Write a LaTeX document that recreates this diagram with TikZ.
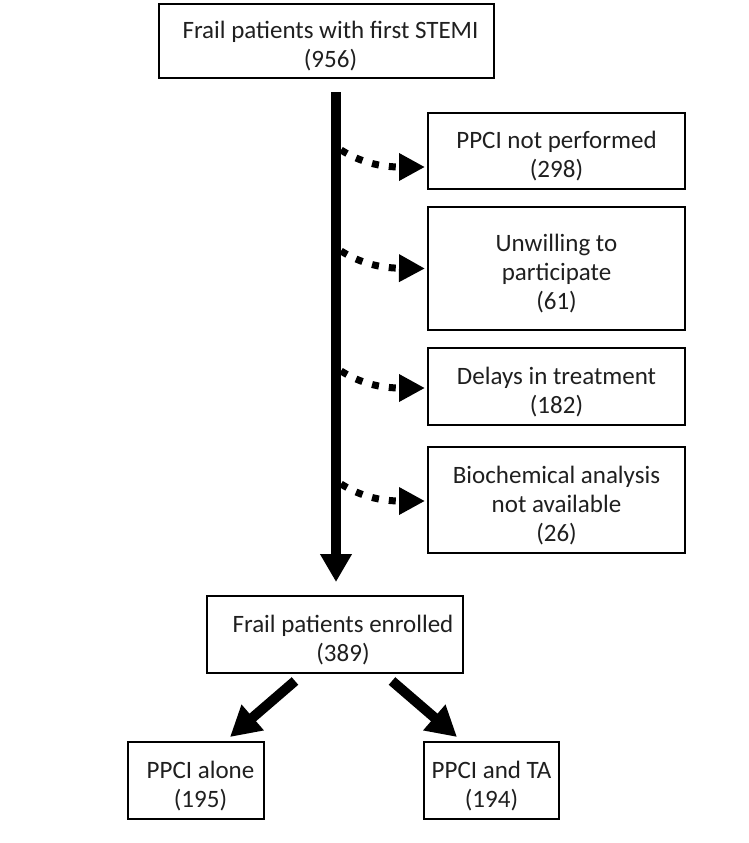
\documentclass[tikz,border=0pt]{standalone}
\usepackage{fontspec}
\setmainfont{Carlito}
\usetikzlibrary{arrows.meta}
\newcommand\tstrut{\rule{0pt}{28pt}}
\begin{document}
\begin{tikzpicture}[x=1pt,y=-1pt,
  box/.style={draw=black, line width=2pt, inner sep=0pt, align=center,
    font=\fontsize{25}{29}\selectfont, text=black!88},
  mainline/.style={line width=10pt, -{Triangle[width=30pt,length=28pt]}},
  diag/.style={line width=10pt, -{Triangle[width=32pt,length=30pt]}},
  dotline/.style={line width=7pt, dash pattern=on 7pt off 10pt, -{Triangle[width=26pt,length=26pt]}}]
\useasboundingbox (0,0) rectangle (749,843);
\node[box, minimum width=335pt, minimum height=74pt] (top) at (326.5,41) {\tstrut\hspace*{8pt}Frail patients with first STEMI\\\hspace*{8pt}(956)};
\node[box, minimum width=257pt, minimum height=76pt] (b1) at (556.5,151) {\tstrut PPCI not performed\\(298)};
\node[box, minimum width=257pt, minimum height=123pt] (b2) at (556.5,268.5) {\tstrut Unwilling to\\participate\\(61)};
\node[box, minimum width=257pt, minimum height=77pt] (b3) at (556.5,386.5) {\tstrut Delays in treatment\\(182)};
\node[box, minimum width=257pt, minimum height=106pt] (b4) at (556.5,500) {\tstrut Biochemical analysis\\not available\\(26)};
\node[box, minimum width=256pt, minimum height=77pt] (enr) at (335,634.5) {\tstrut\hspace*{16pt}Frail patients enrolled\\\hspace*{16pt}(389)};
\node[box, minimum width=136pt, minimum height=77pt] (bl) at (196,780.5) {\tstrut\hspace*{9pt}PPCI alone\\\hspace*{9pt}(195)};
\node[box, minimum width=135pt, minimum height=77pt] (br) at (491.5,780.5) {\tstrut PPCI and TA\\(194)};
\draw[mainline] ([xshift=9.5pt,yshift=-13pt]top.south) -- ([xshift=1pt,yshift=13pt]enr.north);
\coordinate (s1) at (341,150);
\coordinate (s2) at (341,251);
\coordinate (s3) at (341,371);
\coordinate (s4) at (341,484);
\draw[dotline] (s1) .. controls (360,162) and (380,167) .. ([xshift=-2pt,yshift=-16pt]b1.west);
\draw[dotline] (s2) .. controls (360,263) and (380,268) .. ([xshift=-2pt]b2.west);
\draw[dotline] (s3) .. controls (360,383) and (380,388) .. ([xshift=-2pt,yshift=-1.5pt]b3.west);
\draw[dotline] (s4) .. controls (360,496) and (380,501) .. ([xshift=-2pt,yshift=-1pt]b4.west);
\draw[diag] ([xshift=-40pt,yshift=-7pt]enr.south) -- ([xshift=34pt,yshift=4pt]bl.north);
\draw[diag] ([xshift=57pt,yshift=-7pt]enr.south) -- ([xshift=-34.5pt,yshift=4pt]br.north);
\end{tikzpicture}
\end{document}
